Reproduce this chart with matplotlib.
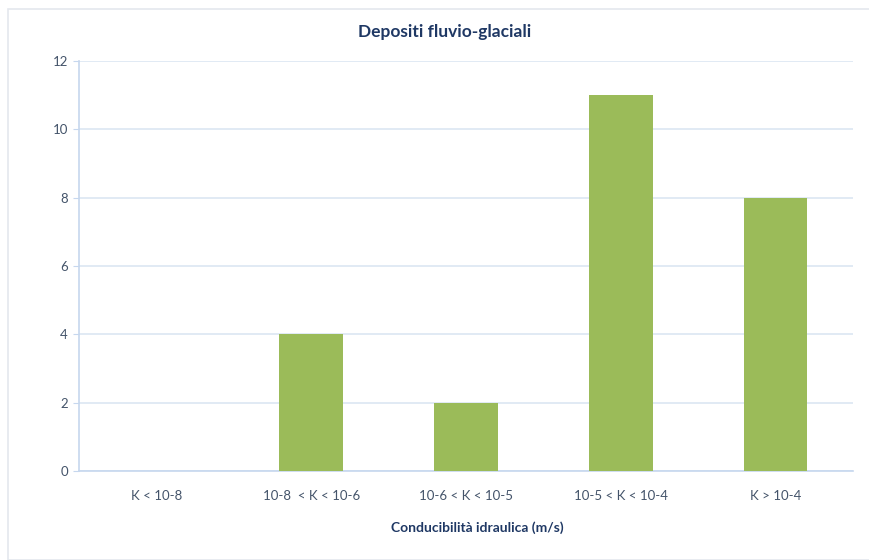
import matplotlib
matplotlib.use("Agg")
import matplotlib.pyplot as plt
from matplotlib.patches import Rectangle

categorie = ["K < 10-8", "10-8  < K < 10-6", "10-6 < K < 10-5", "10-5 < K < 10-4", "K > 10-4"]
conteggi = [0, 4, 2, 11, 8]
tick_y = [0, 2, 4, 6, 8, 10, 12]

verde = "#9BBB59"
griglia = "#DCE6F2"
testo = "#44546A"
titolo_col = "#1F3864"

plt.rcParams['font.family'] = ['Lato', 'DejaVu Sans']

fig = plt.figure(figsize=(8.69, 5.60), dpi=100)
fig.patches.append(Rectangle((8 / 869, 0), 1, 1 - 9 / 560, transform=fig.transFigure,
                             fill=False, edgecolor="#E4E8EE", linewidth=1.2))

ax = fig.add_axes([79 / 869, 89 / 560, 774 / 869, 410 / 560])
x = range(len(categorie))
ax.bar(x, conteggi, width=0.41, color=verde, zorder=3)

ax.set_xlim(-0.5, len(categorie) - 0.5)
ax.set_ylim(0, 12)
ax.set_yticks(tick_y)
ax.set_xticks(list(x))
ax.set_xticklabels(categorie)
ax.yaxis.grid(True, color=griglia, linewidth=1.2, zorder=0)

for s in ["top", "right"]:
    ax.spines[s].set_visible(False)
for s in ["left", "bottom"]:
    ax.spines[s].set_color("#C6D7EE")
    ax.spines[s].set_linewidth(1.2)

ax.tick_params(axis="y", colors=testo, labelsize=9.5, length=4, color="#C6D7EE", pad=4)
ax.tick_params(axis="x", colors=testo, labelsize=9.5, length=0, pad=14)

# titolo e asse x centrati sull'area del grafico, non sugli assi
fig.text(445 / 869, 1 - 32 / 560, "Depositi fluvio-glaciali", color=titolo_col,
         fontsize=12.5, fontweight="bold", ha="center", va="center")
fig.text(477 / 869, 1 - 528 / 560, "Conducibilità idraulica (m/s)", color=titolo_col,
         fontsize=10, fontweight="bold", ha="center", va="center")

fig.savefig("out.png", dpi=100)
